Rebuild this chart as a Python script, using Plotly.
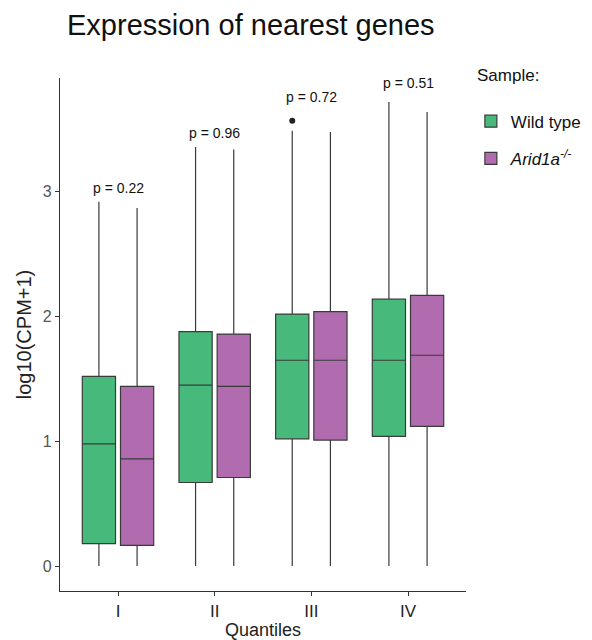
import plotly.graph_objects as go

quantiles = ["I", "II", "III", "IV"]

wt_lower = [0.0, 0.0, 0.0, 0.0]
wt_q1 = [0.18, 0.67, 1.02, 1.04]
wt_median = [0.98, 1.45, 1.65, 1.65]
wt_q3 = [1.52, 1.88, 2.02, 2.14]
wt_upper = [2.92, 3.36, 3.49, 3.72]
wt_outlier_quantile = ["III"]
wt_outlier_value = [3.57]

ko_lower = [0.0, 0.0, 0.0, 0.0]
ko_q1 = [0.165, 0.71, 1.01, 1.12]
ko_median = [0.86, 1.44, 1.65, 1.69]
ko_q3 = [1.44, 1.86, 2.04, 2.17]
ko_upper = [2.87, 3.34, 3.48, 3.64]

p_values = ["p = 0.22", "p = 0.96", "p = 0.72", "p = 0.51"]
p_label_y = [3.03, 3.47, 3.76, 3.87]

FONT = "Liberation Sans, Arial, sans-serif"
GREEN = "#47BA7B"
PURPLE = "#B06CAE"
EDGE = "#3a3a3a"

# the page body adds an 8px offset, so the figure is 8px smaller than the window
W, H = 584, 632
ML, MR, MT, MB = 52, 126, 70, 49
PW, PH = W - ML - MR, H - MT - MB

fig = go.Figure()
fig.add_trace(go.Box(
    name="Wild type", x=quantiles,
    q1=wt_q1, median=wt_median, q3=wt_q3,
    lowerfence=wt_lower, upperfence=wt_upper,
    boxpoints=False, orientation="v",
    fillcolor=GREEN, line=dict(color=EDGE, width=1.2),
    whiskerwidth=0, legendgroup="wt", offsetgroup="wt", alignmentgroup="a",
    hoverinfo="skip",
))
fig.add_trace(go.Box(
    name="<i>Arid1a<sup>-/-</sup></i>", x=quantiles,
    q1=ko_q1, median=ko_median, q3=ko_q3,
    lowerfence=ko_lower, upperfence=ko_upper,
    boxpoints=False, orientation="v",
    fillcolor=PURPLE, line=dict(color=EDGE, width=1.2),
    whiskerwidth=0, legendgroup="ko", offsetgroup="ko", alignmentgroup="a",
    hoverinfo="skip",
))
# outlier points of the wild-type group, drawn in the same offset slot
fig.add_trace(go.Box(
    name="Wild type outliers", x=wt_outlier_quantile, y=wt_outlier_value,
    boxpoints="all", jitter=0, pointpos=0,
    marker=dict(color="#222222", size=6),
    fillcolor="rgba(0,0,0,0)", line=dict(color="rgba(0,0,0,0)", width=0),
    whiskerwidth=0, showlegend=False, legendgroup="wt",
    offsetgroup="wt", alignmentgroup="a", hoverinfo="skip",
))

for q, txt, yv in zip(quantiles, p_values, p_label_y):
    fig.add_annotation(x=q, y=yv, xref="x", yref="y", text=txt,
                       showarrow=False, yanchor="middle",
                       font=dict(family=FONT, size=14, color="#111111"))

# legend heading
fig.add_annotation(x=(467 - ML) / PW, y=1 - (67 - MT) / PH, xref="paper", yref="paper",
                   text="Sample:", showarrow=False, xanchor="left", yanchor="middle",
                   font=dict(family=FONT, size=17, color="#111111"))

fig.update_layout(
    width=W, height=H,
    paper_bgcolor="white", plot_bgcolor="white",
    margin=dict(l=ML, r=MR, t=MT, b=MB, autoexpand=False),
    boxmode="group", boxgap=0.21, boxgroupgap=0.13,
    font=dict(family=FONT, color="#222222"),
    title=dict(text="Expression of nearest genes", x=59/W, xanchor="left",
               xref="container", yref="container", y=1 - 17/H, yanchor="middle",
               font=dict(family=FONT, size=29, color="#111111")),
    legend=dict(x=1.012, xanchor="left", y=0.95, yanchor="top",
                font=dict(size=17, family=FONT, color="#111111"),
                tracegroupgap=12, bgcolor="rgba(0,0,0,0)"),
    xaxis=dict(type="category", categoryorder="array", categoryarray=quantiles,
               range=[-0.6, 3.6], showline=True, linecolor="#333333",
               linewidth=1.3, ticks="outside", ticklen=4, tickcolor="#333333",
               showgrid=False, zeroline=False, automargin=False,
               tickfont=dict(size=17, color="#222222", family=FONT),
               title=dict(text="Quantiles", font=dict(size=18, family=FONT, color="#222222"),
                          standoff=4)),
    yaxis=dict(range=[-0.2, 3.913], showline=True, linecolor="#333333", linewidth=1.3,
               ticks="outside", ticklen=4, tickcolor="#333333",
               tickvals=[0, 1, 2, 3], showgrid=False, zeroline=False, automargin=False,
               tickfont=dict(size=16, color="#555555", family=FONT),
               title=dict(text="log10(CPM+1)", font=dict(size=20, family=FONT, color="#222222"),
                          standoff=5)),
)

fig.write_html("out.html")
